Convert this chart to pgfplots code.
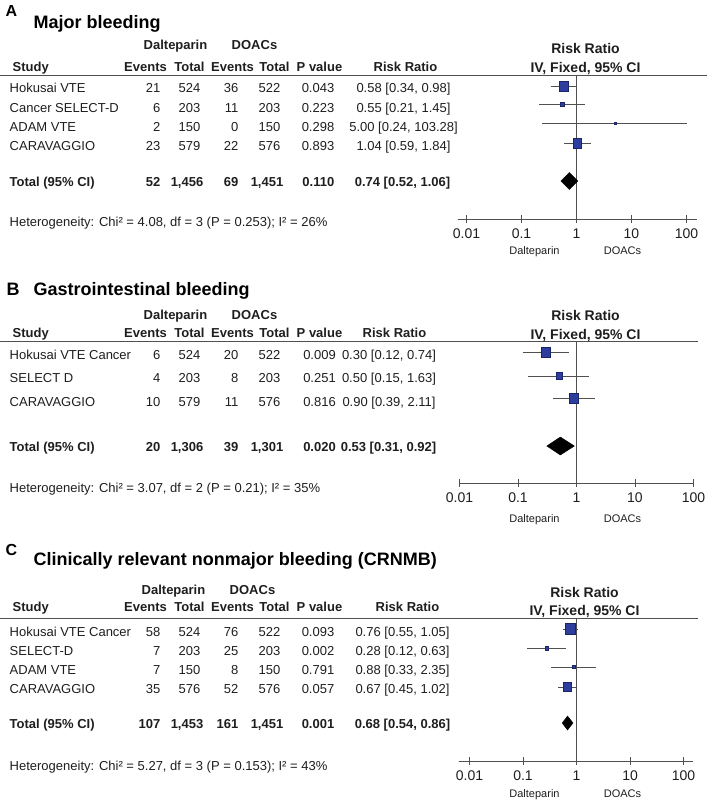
\documentclass[border=0pt]{standalone}
\usepackage{pgfplots}
\pgfplotsset{compat=1.18}
\usepackage{pgfplotstable}
\usepackage{fontspec}
\setmainfont{Liberation Sans}
\definecolor{sqblue}{HTML}{2D3E9E}
\definecolor{sqedge}{HTML}{1B2466}
\definecolor{linegray}{HTML}{505050}
\definecolor{txt}{HTML}{1E1E1E}
\newcommand\fs[1]{\fontsize{#1}{#1}\selectfont}

% Forest data: estimate, lower, upper, y (pixel row, negative), half-size of square
\pgfplotstableread{
est lo hi y s
0.58 0.34 0.98 -86 4.6
0.55 0.21 1.45 -104 2
5.00 0.24 103.28 -123 1
1.04 0.59 1.84 -143 4.1
}\forestA
\pgfplotstableread{
est lo hi y s
0.30 0.12 0.74 -352 4.6
0.50 0.15 1.63 -376 3
0.90 0.39 2.11 -398 4.3
}\forestB
\pgfplotstableread{
est lo hi y s
0.76 0.55 1.05 -629 4.8
0.28 0.12 0.63 -648 1.7
0.88 0.33 2.35 -667 1.2
0.67 0.45 1.02 -687 3.8
}\forestC

\tikzset{ciline/.style={linegray, line width=0.8pt}}

\newcommand\Lt[3]{\node[anchor=base west, inner sep=0pt, text=txt, font=\fs{13}] at (#1,#2) {#3};}
\newcommand\Rt[3]{\node[anchor=base east, inner sep=0pt, text=txt, font=\fs{13}] at (#1,#2) {#3};}
\newcommand\Ct[3]{\node[anchor=base, inner sep=0pt, text=txt, font=\fs{13}] at (#1,#2) {#3};}
\newcommand\Lb[3]{\node[anchor=base west, inner sep=0pt, text=txt, font=\fs{13}\bfseries] at (#1,#2) {#3};}
\newcommand\Rb[3]{\node[anchor=base east, inner sep=0pt, text=txt, font=\fs{13}\bfseries] at (#1,#2) {#3};}
\newcommand\Cb[3]{\node[anchor=base, inner sep=0pt, text=txt, font=\fs{13}\bfseries] at (#1,#2) {#3};}
% row: y, name, e1, t1, e2, t2, p, rr, rr-center
\newcommand\Row[9]{\Lt{9}{#1}{#2}\Rt{160}{#1}{#3}\Rt{200}{#1}{#4}\Rt{238}{#1}{#5}\Rt{280}{#1}{#6}\Rt{334}{#1}{#7}\Ct{#9}{#1}{#8}}
\newcommand\TRow[9]{\Lb{9}{#1}{#2}\Rb{160}{#1}{#3}\Rb{203}{#1}{#4}\Rb{238}{#1}{#5}\Rb{283}{#1}{#6}\Rb{334}{#1}{#7}\Cb{#9}{#1}{#8}}
\newcommand\Head[5]{% y1, y2, dalt center, doac center, rr center
  \Cb{#3}{#1}{Dalteparin}\Cb{#4}{#1}{DOACs}
  \Lb{12}{#2}{Study}\Cb{145}{#2}{Events}\Cb{189}{#2}{Total}\Cb{232}{#2}{Events}\Cb{274}{#2}{Total}\Cb{319}{#2}{P value}\Cb{#5}{#2}{Risk Ratio}}
\newcommand\FHead[3]{% x, y1, y2
  \node[anchor=base, inner sep=0pt, text=txt, font=\fs{14}\bfseries] at (#1,#2) {Risk Ratio};
  \node[anchor=base, inner sep=0pt, text=txt, font=\fs{14}\bfseries] at (#1,#3) {IV, Fixed, 95\% CI};}
\newcommand\FFoot[1]{%
  \node[anchor=base, inner sep=0pt, text=txt, font=\fs{11}] at (534,#1) {Dalteparin};
  \node[anchor=base, inner sep=0pt, text=txt, font=\fs{11}] at (622,#1) {DOACs};}

\begin{document}
\begin{tikzpicture}
\begin{scope}[x=1pt, y=-1pt]
\path (0,0) rectangle (708,807);
% ---------------- Panel A ----------------
\node[anchor=base west, inner sep=0pt, font=\fs{16}\bfseries] at (5,16.5) {A};
\node[anchor=base west, inner sep=0pt, font=\fs{18}\bfseries] at (33,28.3) {Major bleeding};
\Head{49.5}{71.5}{175}{254}{405}
\draw[linegray, line width=1pt] (0,75) -- (706,75);
\Row{92.5}{Hokusai VTE}{21}{524}{36}{522}{0.043}{0.58 [0.34, 0.98]}{403}
\Row{112.5}{Cancer SELECT-D}{6}{203}{11}{203}{0.223}{0.55 [0.21, 1.45]}{403}
\Row{131.5}{ADAM VTE}{2}{150}{0}{150}{0.298}{5.00 [0.24, 103.28]}{403}
\Row{150.5}{CARAVAGGIO}{23}{579}{22}{576}{0.893}{1.04 [0.59, 1.84]}{403}
\TRow{186.5}{Total (95\% CI)}{52}{1,456}{69}{1,451}{0.110}{0.74 [0.52, 1.06]}{402}
\Lt{9}{226.5}{Heterogeneity: Chi² = 4.08, df = 3 (P = 0.253); I² = 26\%}
\FHead{585}{53}{72.5}
\FFoot{254}
% ---------------- Panel B ----------------
\node[anchor=base west, inner sep=0pt, font=\fs{18}\bfseries] at (6,295) {B};
\node[anchor=base west, inner sep=0pt, font=\fs{18}\bfseries] at (33,295) {Gastrointestinal bleeding};
\Head{319.5}{337.5}{175}{254}{394}
\draw[linegray, line width=1pt] (0,341) -- (697,341);
\Row{359.5}{Hokusai VTE Cancer}{6}{524}{20}{522}{\makebox[0pt][r]{0.009\hspace{-2pt}}}{0.30 [0.12, 0.74]}{388.5}
\Row{382.5}{SELECT D}{4}{203}{8}{203}{\makebox[0pt][r]{0.251\hspace{-2pt}}}{0.50 [0.15, 1.63]}{388.5}
\Row{406.5}{CARAVAGGIO}{10}{579}{11}{576}{\makebox[0pt][r]{0.816\hspace{-2pt}}}{0.90 [0.39, 2.11]}{388.5}
\TRow{451.5}{Total (95\% CI)}{20}{1,306}{39}{1,301}{\makebox[0pt][r]{0.020\hspace{-2pt}}}{0.53 [0.31, 0.92]}{388}
\Lt{9}{492.5}{Heterogeneity: Chi² = 3.07, df = 2 (P = 0.21); I² = 35\%}
\FHead{585}{320}{339}
\FFoot{522}
% ---------------- Panel C ----------------
\node[anchor=base west, inner sep=0pt, font=\fs{16}\bfseries] at (5,555) {C};
\node[anchor=base west, inner sep=0pt, font=\fs{18}\bfseries] at (33,565) {Clinically relevant nonmajor bleeding (CRNMB)};
\Head{594.5}{611.5}{173}{252}{407}
\draw[linegray, line width=1pt] (0,618) -- (697,618);
\Row{636.5}{Hokusai VTE Cancer}{58}{524}{76}{522}{0.093}{0.76 [0.55, 1.05]}{402}
\Row{655.5}{SELECT-D}{7}{203}{25}{203}{0.002}{0.28 [0.12, 0.63]}{402}
\Row{674.5}{ADAM VTE}{7}{150}{8}{150}{0.791}{0.88 [0.33, 2.35]}{402}
\Row{693.5}{CARAVAGGIO}{35}{576}{52}{576}{0.057}{0.67 [0.45, 1.02]}{402}
\TRow{728.5}{Total (95\% CI)}{107}{1,453}{161}{1,451}{0.001}{0.68 [0.54, 0.86]}{402}
\Lt{9}{770.5}{Heterogeneity: Chi² = 5.27, df = 3 (P = 0.153); I² = 43\%}
\FHead{584}{597}{615.5}
\FFoot{797}
\end{scope}

% ---------------- Forest A ----------------
\begin{axis}[at={(457pt,-219pt)}, anchor=south west,
  scale only axis, xmode=log, clip=false,
  axis x line=bottom, axis y line=none,
  axis line style={-, linegray, line width=0.9pt},
  xtick={0.01,0.1,1,10,100}, xticklabels={0.01,0.1,1,10,100},
  xminorticks=false,
  xtick align=center, major tick length=8pt,
  tick style={linegray, line width=0.9pt},
  xticklabel style={font=\fs{14}, text=txt, yshift=-2.5pt},
  ytick=\empty,
  width=239pt, height=144pt, xmin=0.00686, xmax=152, ymin=-219, ymax=-75]
\addplot[linegray, line width=0.9pt] coordinates {(1,-75) (1,-219)};
\addplot[ciline] coordinates {(0.34,-86) (0.98,-86)};
\addplot[ciline] coordinates {(0.21,-104) (1.45,-104)};
\addplot[ciline] coordinates {(0.24,-123) (103.28,-123)};
\addplot[ciline] coordinates {(0.59,-143) (1.84,-143)};
\addplot[scatter, only marks, mark=square*,
  scatter/use mapped color={draw=sqedge, fill=sqblue},
  visualization depends on={\thisrow{s} \as \ms},
  scatter/@pre marker code/.append style={/tikz/mark size=\ms, /tikz/line width=0.5pt, /tikz/yscale=1.15}]
  table[x=est, y=y] {\forestA};
\addplot[fill=black, draw=black] coordinates {(0.52,-181) (0.74,-172.5) (1.06,-181) (0.74,-189.5) (0.52,-181)};
\end{axis}

% ---------------- Forest B ----------------
\begin{axis}[at={(459pt,-483pt)}, anchor=south west,
  scale only axis, xmode=log, clip=false,
  axis x line=bottom, axis y line=none,
  axis line style={-, linegray, line width=0.9pt},
  xtick={0.01,0.1,1,10,100}, xticklabels={0.01,0.1,1,10,100},
  xminorticks=false,
  xtick align=center, major tick length=8pt,
  tick style={linegray, line width=0.9pt},
  xticklabel style={font=\fs{14}, text=txt, yshift=-2.5pt},
  ytick=\empty,
  width=234pt, height=142pt, xmin=0.01, xmax=100, ymin=-483, ymax=-341]
\addplot[linegray, line width=0.9pt] coordinates {(1,-341) (1,-483)};
\addplot[ciline] coordinates {(0.12,-352) (0.74,-352)};
\addplot[ciline] coordinates {(0.15,-376) (1.63,-376)};
\addplot[ciline] coordinates {(0.39,-398) (2.11,-398)};
\addplot[scatter, only marks, mark=square*,
  scatter/use mapped color={draw=sqedge, fill=sqblue},
  visualization depends on={\thisrow{s} \as \ms},
  scatter/@pre marker code/.append style={/tikz/mark size=\ms, /tikz/line width=0.5pt, /tikz/yscale=1.15}]
  table[x=est, y=y] {\forestB};
\addplot[fill=black, draw=black] coordinates {(0.31,-446) (0.53,-437) (0.92,-446) (0.53,-455) (0.31,-446)};
\end{axis}

% ---------------- Forest C ----------------
\begin{axis}[at={(458pt,-761pt)}, anchor=south west,
  scale only axis, xmode=log, clip=false,
  axis x line=bottom, axis y line=none,
  axis line style={-, linegray, line width=0.9pt},
  xtick={0.01,0.1,1,10,100}, xticklabels={0.01,0.1,1,10,100},
  xminorticks=false,
  xtick align=center, major tick length=8pt,
  tick style={linegray, line width=0.9pt},
  xticklabel style={font=\fs{14}, text=txt, yshift=-2.5pt},
  ytick=\empty,
  width=234pt, height=143pt, xmin=0.00623, xmax=147, ymin=-761, ymax=-618]
\addplot[linegray, line width=0.9pt] coordinates {(1,-618) (1,-761)};
\addplot[ciline] coordinates {(0.55,-629) (1.05,-629)};
\addplot[ciline] coordinates {(0.12,-648) (0.63,-648)};
\addplot[ciline] coordinates {(0.33,-667) (2.35,-667)};
\addplot[ciline] coordinates {(0.45,-687) (1.02,-687)};
\addplot[scatter, only marks, mark=square*,
  scatter/use mapped color={draw=sqedge, fill=sqblue},
  visualization depends on={\thisrow{s} \as \ms},
  scatter/@pre marker code/.append style={/tikz/mark size=\ms, /tikz/line width=0.5pt, /tikz/yscale=1.15}]
  table[x=est, y=y] {\forestC};
\addplot[fill=black, draw=black] coordinates {(0.54,-723) (0.68,-716) (0.86,-723) (0.68,-730) (0.54,-723)};
\end{axis}
\end{tikzpicture}
\end{document}
